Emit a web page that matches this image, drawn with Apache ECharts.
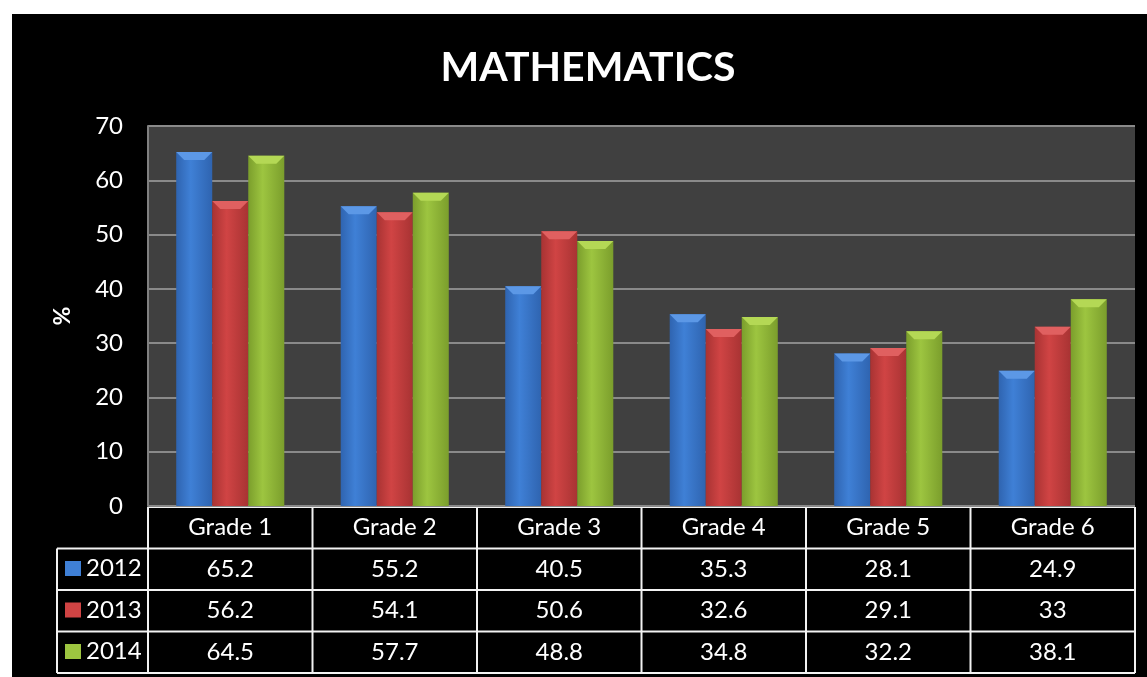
<!DOCTYPE html>
<html>
<head>
<meta charset="utf-8">
<script src="https://cdn.jsdelivr.net/npm/echarts@6/dist/echarts.min.js"></script>
<style>
html, body { margin: 0; padding: 0; background: #fff; }
#chart { position: absolute; left: 12px; top: 14px; width: 1135px; height: 663px; background: #000; }
</style>
</head>
<body>
<div id="chart"></div>
<script>
// data
const categories = ['Grade 1', 'Grade 2', 'Grade 3', 'Grade 4', 'Grade 5', 'Grade 6']
const years = ['2012', '2013', '2014']
const values2012 = [65.2, 55.2, 40.5, 35.3, 28.1, 24.9]
const values2013 = [56.2, 54.1, 50.6, 32.6, 29.1, 33]
const values2014 = [64.5, 57.7, 48.8, 34.8, 32.2, 38.1]
const yMin = 0
const yMax = 70
const yStep = 10

const seriesValues = [values2012, values2013, values2014]
const palettes = [
    { base: '#3f80d6', light: '#5c98e6', dark: '#2f64b0' },
    { base: '#d04444', light: '#e06060', dark: '#a83333' },
    { base: '#9dc540', light: '#b4d855', dark: '#7b9e2c' }
]

const fontFamily = 'Lato, "Open Sans", sans-serif'
const gridLeft = 136
const gridRight = 12
const gridTop = 112
const gridBottom = 171
const chartW = 1135
const chartH = 663
const plotBottom = chartH - gridBottom
const rowH = 41.5
const colW = (chartW - gridLeft - gridRight) / categories.length
const tableTop = plotBottom + 1
const legendColLeft = 45
const lineColor = '#f2f2f2'

const myChart = echarts.init(document.getElementById('chart'))

function barRenderer(idx) {
    const pal = palettes[idx]
    return function (params, api) {
        const cat = api.value(0)
        const top = api.coord([cat, api.value(1)])
        const base = api.coord([cat, 0])
        const bw = api.size([1, 0])[0] * 0.219
        const x0 = top[0] + (idx - 1) * bw - bw / 2
        const h = base[1] - top[1]
        const cap = Math.min(8, h)
        return {
            type: 'group',
            children: [
                {
                    type: 'rect',
                    shape: { x: x0, y: top[1], width: bw, height: h },
                    style: {
                        fill: new echarts.graphic.LinearGradient(0, 0, 1, 0, [
                            { offset: 0, color: pal.dark },
                            { offset: 0.4, color: pal.base },
                            { offset: 1, color: pal.dark }
                        ])
                    }
                },
                {
                    type: 'polygon',
                    shape: {
                        points: [
                            [x0, top[1]],
                            [x0 + bw, top[1]],
                            [x0 + bw - cap, top[1] + cap],
                            [x0 + cap, top[1] + cap]
                        ]
                    },
                    style: { fill: pal.light }
                }
            ]
        }
    }
}

// table lines
const tableLines = []
for (let r = 0; r <= years.length + 1; r++) {
    const y = tableTop + r * rowH
    const x1 = r === 0 ? gridLeft : legendColLeft
    tableLines.push({
        type: 'line',
        shape: { x1: x1, y1: y, x2: chartW - gridRight, y2: y },
        style: { stroke: lineColor, lineWidth: 2 }
    })
}
for (let c = 0; c <= categories.length; c++) {
    const x = gridLeft + c * colW
    tableLines.push({
        type: 'line',
        shape: { x1: x, y1: tableTop, x2: x, y2: tableTop + (years.length + 1) * rowH },
        style: { stroke: lineColor, lineWidth: 2 }
    })
}
tableLines.push({
    type: 'line',
    shape: { x1: legendColLeft, y1: tableTop + rowH, x2: legendColLeft, y2: tableTop + (years.length + 1) * rowH },
    style: { stroke: lineColor, lineWidth: 2 }
})

const labelStyle = {
    color: '#fff',
    fontSize: 24,
    fontFamily: fontFamily,
    verticalAlign: 'middle',
    interval: 0
}

const xAxes = [
    {
        type: 'category',
        data: categories,
        position: 'bottom',
        axisLine: { show: false },
        axisTick: { show: false },
        axisLabel: Object.assign({}, labelStyle, { margin: rowH / 2 + 1 })
    }
]
seriesValues.forEach((vals, i) => {
    xAxes.push({
        type: 'category',
        data: vals.map(v => String(v)),
        position: 'bottom',
        axisLine: { show: false },
        axisTick: { show: false },
        splitLine: { show: false },
        axisLabel: Object.assign({}, labelStyle, { margin: rowH * (i + 1) + rowH / 2 + 1 })
    })
})

const option = {
    title: {
        text: 'MATHEMATICS',
        left: 571,
        top: 28,
        textAlign: 'center',
        textStyle: { color: '#fff', fontSize: 41, fontWeight: 'bold', fontFamily: fontFamily }
    },
    legend: {
        orient: 'vertical',
        left: legendColLeft + 8,
        top: tableTop + rowH + 8,
        padding: 0,
        itemGap: 17.5,
        itemWidth: 16,
        itemHeight: 15,
        icon: 'rect',
        textStyle: { color: '#fff', fontSize: 24, fontFamily: fontFamily, lineHeight: 24 },
        data: years
    },
    grid: {
        left: gridLeft,
        right: gridRight,
        top: gridTop,
        bottom: gridBottom,
        show: true,
        backgroundColor: '#404040',
        borderWidth: 0
    },
    xAxis: xAxes,
    yAxis: {
        type: 'value',
        min: yMin,
        max: yMax,
        interval: yStep,
        name: '%',
        nameLocation: 'middle',
        nameGap: 74,
        nameTextStyle: { color: '#fff', fontSize: 23, fontWeight: 'bold', fontFamily: fontFamily },
        axisLine: { show: true, lineStyle: { color: '#808080', width: 2 } },
        axisTick: { show: false },
        axisLabel: { color: '#fff', fontSize: 24, fontFamily: fontFamily, margin: 25 },
        splitLine: { show: true, lineStyle: { color: '#8a8a8a', width: 2 } }
    },
    series: seriesValues.map((vals, i) => ({
        name: years[i],
        type: 'custom',
        xAxisIndex: 0,
        itemStyle: { color: palettes[i].base },
        renderItem: barRenderer(i),
        encode: { x: 0, y: 1 },
        data: vals.map((v, k) => [k, v])
    })),
    graphic: tableLines
}
myChart.setOption(option)
</script>
</body>
</html>
